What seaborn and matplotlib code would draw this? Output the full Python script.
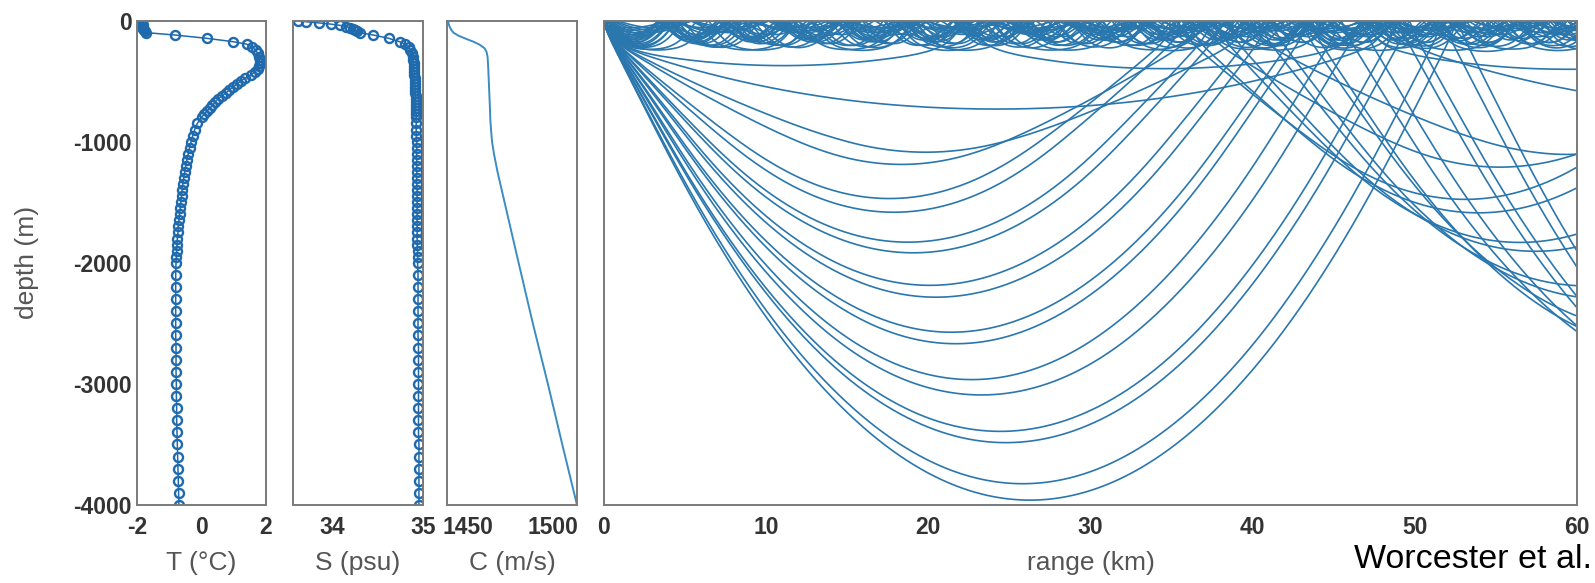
import numpy as np
import pandas as pd
import matplotlib
matplotlib.use("Agg")
import matplotlib.pyplot as plt
import seaborn as sns
from matplotlib.ticker import FixedLocator, FuncFormatter

# ---- profile data (depth in m, negative down) ----
depth_ts = [0, -10, -20, -30, -40, -50, -60, -70, -80, -90, -100,
            -120, -147, -175, -195, -220, -245, -270, -300, -325, -350, -375,
            -400, -425, -450, -475, -500, -525, -550, -575, -600, -625, -650,
            -675, -700, -725, -750, -775, -800, -850, -900, -950, -1000, -1050,
            -1100, -1150, -1200, -1250, -1300, -1350, -1400, -1450, -1500, -1550,
            -1600, -1650, -1700, -1750, -1800, -1850, -1900, -1950, -2000,
            -2100, -2200, -2300, -2400, -2500, -2600, -2700, -2800, -2900, -3000,
            -3100, -3200, -3300, -3400, -3500, -3600, -3700, -3800, -3900, -4000]

temp = [-1.85, -1.88, -1.85, -1.83, -1.82, -1.83, -1.82, -1.80, -1.78, -1.76, -1.72,
        -0.82, 0.16, 0.98, 1.40, 1.58, 1.68, 1.74, 1.78, 1.80, 1.80, 1.78,
        1.74, 1.66, 1.52, 1.36, 1.22, 1.10, 0.98, 0.86, 0.75, 0.63, 0.50,
        0.42, 0.34, 0.25, 0.16, 0.08, 0.00, -0.13, -0.21, -0.27, -0.32, -0.37,
        -0.41, -0.45, -0.49, -0.52, -0.55, -0.58, -0.60, -0.62, -0.64, -0.66,
        -0.68, -0.70, -0.72, -0.73, -0.75, -0.76, -0.77, -0.78, -0.79,
        -0.80, -0.80, -0.80, -0.80, -0.80, -0.80, -0.79, -0.79, -0.79, -0.78,
        -0.78, -0.77, -0.77, -0.76, -0.75, -0.74, -0.73, -0.72, -0.71, -0.70]

salt = [33.62, 33.70, 33.85, 33.98, 34.08, 34.15, 34.19, 34.22, 34.25, 34.27, 34.30,
        34.45, 34.62, 34.74, 34.80, 34.84, 34.86, 34.875, 34.885, 34.89, 34.895, 34.90,
        34.90, 34.905, 34.905, 34.91, 34.91, 34.91, 34.915, 34.915, 34.915, 34.92, 34.92,
        34.92, 34.92, 34.92, 34.92, 34.925, 34.925, 34.925, 34.925, 34.925, 34.93, 34.93,
        34.93, 34.93, 34.93, 34.93, 34.93, 34.93, 34.935, 34.935, 34.935, 34.935,
        34.935, 34.935, 34.935, 34.935, 34.935, 34.935, 34.94, 34.94, 34.94,
        34.945, 34.945, 34.945, 34.945, 34.945, 34.945, 34.95, 34.95, 34.95, 34.95,
        34.95, 34.95, 34.95, 34.95, 34.955, 34.955, 34.955, 34.955, 34.955, 34.955]

depth_c = [0, -25, -50, -75, -100, -125, -150, -175, -200, -230, -260, -300,
           -400, -500, -600, -700, -820, -900, -1000, -1100, -1250, -1500, -1750,
           -2000, -2500, -3000, -3500, -4000]
sound_speed = [1438.4, 1438.8, 1439.4, 1440.3, 1441.6, 1444.5, 1448.8, 1453.3,
               1457.0, 1459.9, 1461.0, 1461.6, 1462.0, 1462.3, 1462.6, 1462.9,
               1463.2, 1463.6, 1464.2, 1465.3, 1467.4, 1471.5, 1475.6,
               1479.7, 1488.0, 1496.8, 1505.2, 1513.8]

# ray fan: source depth and the turning depths (m) of the rays seen in the plot
source_depth = 30.0
turn_deep = [740, 1095, 1205, 1466, 1576, 1823, 1933, 2181, 2299,
             2565, 2683, 2964, 3087, 3390, 3513, 3815, 3953]
turn_duct = [60, 80, 100, 115, 130, 145, 160, 175, 190, 205, 220, 240]
turn_wide = [380]

# ---- ray trace through the sound speed profile ----
zc = -np.array(depth_c, float)
cc = np.array(sound_speed, float)
grad = np.diff(cc) / np.diff(zc)


def c_at(d):
    return np.interp(d, zc, cc)


def g_at(d):
    i = np.clip(np.searchsorted(zc, d, side="right") - 1, 0, len(grad) - 1)
    return grad[i]


turns = np.array(turn_deep + turn_wide + turn_duct + turn_duct, float)
n_down = len(turn_deep) + len(turn_wide) + len(turn_duct)
signs = np.array([1] * n_down + [-1] * len(turn_duct))
theta = signs * np.arccos(c_at(source_depth) / c_at(turns))

ds = 20.0
r = np.zeros(len(turns))
d = np.full(len(turns), source_depth)
rs, dz = [r.copy()], [d.copy()]
while r.min() < 60500:
    k1 = -g_at(d) / c_at(d) * np.cos(theta)
    dm = np.abs(d + 0.5 * ds * np.sin(theta))
    thm = theta + 0.5 * ds * k1
    k2 = -g_at(dm) / c_at(dm) * np.cos(thm)
    r = r + ds * np.cos(thm)
    d = d + ds * np.sin(thm)
    theta = theta + ds * k2
    up = d < 0
    d[up] = -d[up]
    theta[up] = -theta[up]
    rs.append(r.copy())
    dz.append(d.copy())

rs = np.array(rs) / 1000.0
dz = -np.array(dz)
rays = pd.DataFrame({
    "ray": np.tile(np.arange(len(turns)), rs.shape[0]),
    "range": rs.ravel(),
    "depth": dz.ravel(),
})
rays = rays[rays["range"] <= 60.5]

# ---- figure ----
sns.set_style("white")
plt.rcParams["font.family"] = ["Liberation Sans", "DejaVu Sans"]
plt.rcParams["axes.unicode_minus"] = False

W, H = 1595, 583
fig = plt.figure(figsize=(W / 100, H / 100), dpi=100)
bot, hgt = (H - 505) / H, (505 - 20.5) / H
ax_t = fig.add_axes([137 / W, bot, 129 / W, hgt])
ax_s = fig.add_axes([293 / W, bot, 130 / W, hgt])
ax_c = fig.add_axes([447 / W, bot, 130 / W, hgt])
ax_r = fig.add_axes([604 / W, bot, 973 / W, hgt])

mark_col = "#1f69ad"
ray_col = "#2a77ae"
marker_kw = dict(marker="o", markersize=6.5, markerfacecolor="none",
                 markeredgecolor=mark_col, markeredgewidth=1.7,
                 color=mark_col, linewidth=1.1)

sns.lineplot(x=temp, y=depth_ts, sort=False, estimator=None, ax=ax_t, **marker_kw)
sns.lineplot(x=salt, y=depth_ts, sort=False, estimator=None, ax=ax_s, **marker_kw)
sns.lineplot(x=sound_speed, y=depth_c, sort=False, estimator=None, ax=ax_c,
             color="#3a8cc4", linewidth=1.4)
sns.lineplot(data=rays, x="range", y="depth", units="ray", estimator=None,
             sort=False, ax=ax_r, color=ray_col, linewidth=1.2)

ax_t.set_xlim(-2, 2)
ax_t.set_xticks([-2, 0, 2])
ax_s.set_xlim(33.56, 35.0)
ax_s.set_xticks([34, 34.5, 35])
ax_s.xaxis.set_major_formatter(FuncFormatter(lambda v, p: "" if v == 34.5 else f"{v:g}"))
ax_c.set_xlim(1437.9, 1513.8)
ax_c.set_xticks([1450, 1500])
ax_r.set_xlim(0, 60)
ax_r.set_xticks(range(0, 61, 10))

ytk = list(range(0, -4001, -500))
label_font = dict(fontsize=19, color="#555555")
for ax, lab in [(ax_t, "T (°C)"), (ax_s, "S (psu)"), (ax_c, "C (m/s)"), (ax_r, "range (km)")]:
    ax.set_ylim(-4000, 0)
    ax.yaxis.set_major_locator(FixedLocator(ytk))
    if ax is ax_t:
        ax.yaxis.set_major_formatter(FuncFormatter(lambda v, p: f"{int(v)}" if v % 1000 == 0 else ""))
    else:
        ax.set_yticklabels([])
    ax.tick_params(direction="in", length=4, width=1.2, color="#555555",
                   labelsize=16.5, labelcolor="#333333", pad=4)
    ax.tick_params(axis="x", pad=8)
    for lbl in ax.get_xticklabels() + ax.get_yticklabels():
        lbl.set_fontweight("bold")
    for sp in ax.spines.values():
        sp.set_color("#7a7a7a")
        sp.set_linewidth(1.4)
    ax.set_xlabel(lab, **label_font)
    ax.xaxis.set_label_coords(0.5, -0.095)
    ax.set_ylabel("")

ax_t.set_ylabel("depth (m)", **label_font)
ax_t.yaxis.set_label_coords(-0.76, 0.5)

fig.text(0.998, 0.026, "Worcester et al.", ha="right", va="baseline",
         fontsize=24.5, color="black")

fig.savefig("out.png", dpi=100)
